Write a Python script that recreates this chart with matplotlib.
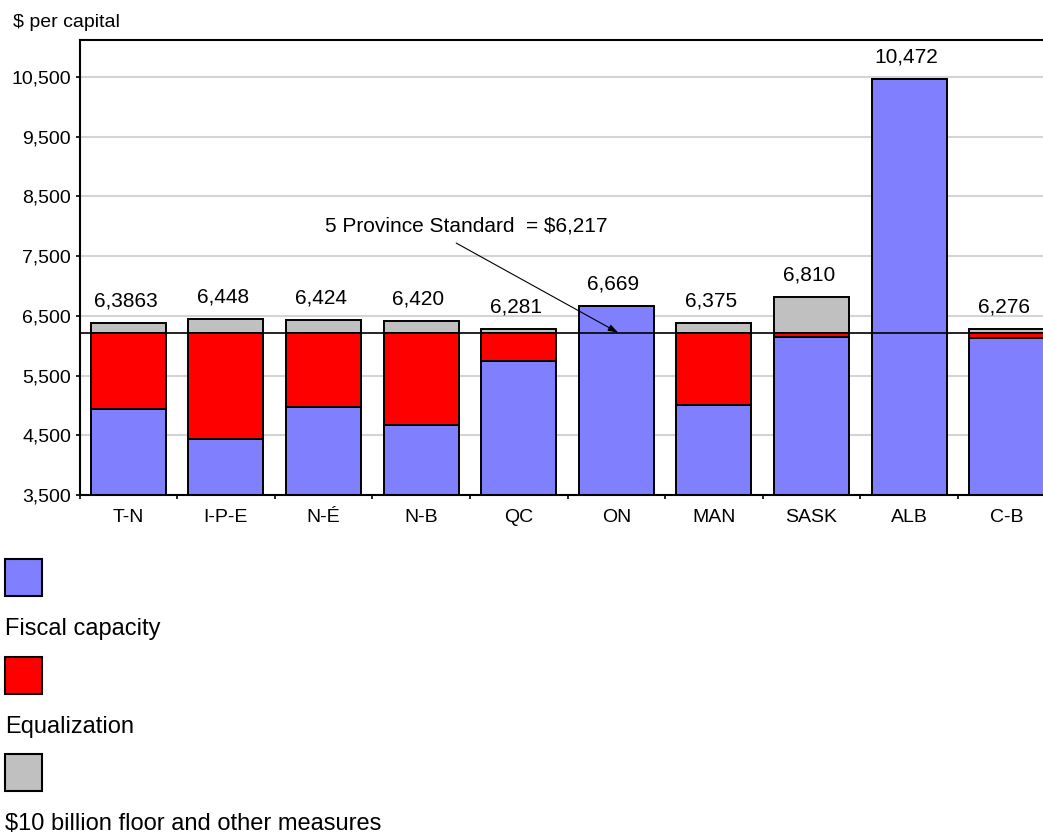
import matplotlib

matplotlib.use("Agg")
import matplotlib.pyplot as plt
import numpy as np
from matplotlib.patches import Rectangle
from matplotlib.ticker import FuncFormatter, FixedLocator

plt.rcParams["font.family"] = ["Liberation Sans", "DejaVu Sans"]

# Per-capita fiscal capacity after equalization, by province
provinces = ["T-N", "I-P-E", "N-É", "N-B", "QC", "ON", "MAN", "SASK", "ALB", "C-B"]
fiscal_capacity = [4940, 4438, 4979, 4673, 5745, 6669, 5008, 6150, 10472, 6125]
equalization = [1277, 1779, 1238, 1544, 472, 0, 1209, 67, 0, 92]
totals = [6386, 6448, 6424, 6420, 6281, 6669, 6375, 6810, 10472, 6276]
total_labels = ["6,3863", "6,448", "6,424", "6,420", "6,281",
                "6,669", "6,375", "6,810", "10,472", "6,276"]
standard = 6217
standard_label = "5 Province Standard  = $6,217"
y_ticks = [3500, 4500, 5500, 6500, 7500, 8500, 9500, 10500]

series_names = ["Fiscal capacity", "Equalization", "$10 billion floor and other measures"]
series_colors = ["#8080FF", "#FF0000", "#C0C0C0"]

fiscal = np.array(fiscal_capacity)
equal = np.array(equalization)
floor = np.array(totals) - fiscal - equal

W, H = 1043, 833
fig = plt.figure(figsize=(W / 100, H / 100), dpi=100)
ax = fig.add_axes([79.5 / W, 338 / H, 976 / W, 455.5 / H])

x = np.arange(len(provinces))
bw = 0.77
edge = dict(edgecolor="black", linewidth=1.4)
ax.bar(x, fiscal, bw, bottom=0, color=series_colors[0], zorder=2, **edge)
ax.bar(x, equal, bw, bottom=fiscal, color=series_colors[1], zorder=2, **edge)
ax.bar(x, floor, bw, bottom=fiscal + equal, color=series_colors[2], zorder=2, **edge)

ax.axhline(standard, color="black", linewidth=1.2, zorder=4)

for xi, tot, lab in zip(x, totals, total_labels):
    ax.annotate(lab, xy=(xi, tot), xytext=(-2, 9), textcoords="offset points",
                ha="center", va="bottom", fontsize=15)

ax.text(3.46, 7906, standard_label, ha="center", va="baseline", fontsize=15)
ax.annotate("", xy=(5.02, standard), xytext=(3.36, 7717),
            arrowprops=dict(arrowstyle="-|>,head_length=0.6,head_width=0.2",
                            color="black", lw=0.8, shrinkA=0, shrinkB=0),
            zorder=5)

ax.set_xlim(-0.5, 9.5)
ax.set_ylim(3500, 11125)
ax.set_yticks(y_ticks)
ax.yaxis.set_major_formatter(FuncFormatter(lambda v, _: f"{int(v):,}"))
ax.set_xticks(x)
ax.set_xticklabels(provinces)
ax.xaxis.set_minor_locator(FixedLocator(np.arange(-0.5, 10, 1)))
ax.tick_params(axis="x", which="major", length=0, pad=10, labelsize=14)
ax.tick_params(axis="x", which="minor", length=3, width=1.2, direction="out")
ax.tick_params(axis="y", length=3, width=1.2, pad=3, labelsize=14)

ax.grid(axis="y", color="#d4d4d4", linewidth=1.5, zorder=0)
ax.set_axisbelow(True)
for side in ["left", "bottom", "top", "right"]:
    ax.spines[side].set_linewidth(1.5)

fig.text(13 / W, (H - 27) / H, "$ per capital", fontsize=14, va="baseline")

# Legend stacked below the plot: swatch, then its name underneath
for k, (name, col) in enumerate(zip(series_names, series_colors)):
    top = 559 + 97.5 * k
    fig.patches.append(Rectangle((5 / W, (H - top - 37) / H), 37 / W, 37 / H,
                                 transform=fig.transFigure, facecolor=col,
                                 edgecolor="black", linewidth=1.5))
    fig.text(5 / W, (H - top - 76) / H, name, fontsize=17, va="baseline")

fig.savefig("out.png", dpi=100)
